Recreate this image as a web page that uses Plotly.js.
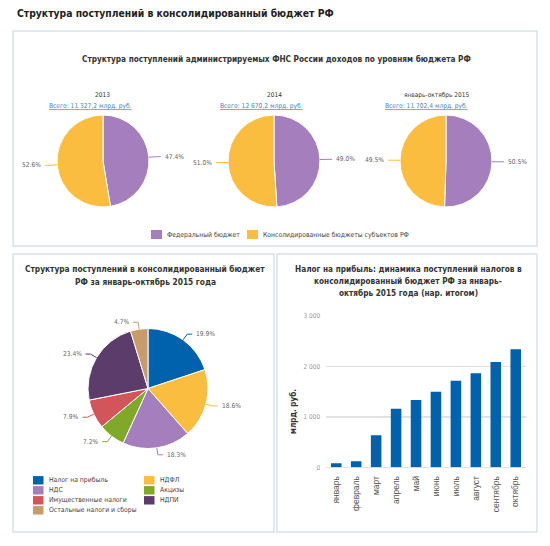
<!DOCTYPE html>
<html>
<head>
<meta charset="utf-8">
<script src="https://cdn.plot.ly/plotly-3.0.1.min.js"></script>
<style>html,body{margin:0;padding:0;background:#fff;}#chart{width:550px;height:546px;}</style>
</head>
<body>
<div id="chart"></div>
<script>
// ---------- DATA ----------
const topTitles = ['2013', '2014', 'январь-октябрь 2015'];
const topTotals = ['Всего: 11 327,2 млрд. руб.', 'Всего: 12 670,2 млрд. руб.', 'Всего: 11 702,4 млрд. руб.'];
const levelNames = ['Федеральный бюджет', 'Консолидированные бюджеты субъектов РФ'];
const federalShare = [47.4, 49.0, 50.5];
const regionalShare = [52.6, 51.0, 49.5];

const taxNames = ['Налог на прибыль', 'НДФЛ', 'НДС', 'Акцизы', 'Имущественные налоги', 'НДПИ', 'Остальные налоги и сборы'];
const taxShare = [19.9, 18.6, 18.3, 7.2, 7.9, 23.4, 4.7];

const months = ['январь', 'февраль', 'март', 'апрель', 'май', 'июнь', 'июль', 'август', 'сентябрь', 'октябрь'];
const profitTax = [80, 120, 635, 1160, 1335, 1500, 1715, 1865, 2090, 2340];

// ---------- STYLE ----------
const W = 550, H = 546;
const FONT = '"Liberation Sans Narrow", "DejaVu Sans Condensed", "Liberation Sans", sans-serif';
const levelColors = ['#a57fbd', '#fbbd40'];
const taxColors = ['#0062ad', '#fbbd40', '#a57fbd', '#80a92a', '#d3545a', '#5b3c6b', '#c89b6b'];
const BAR = '#0062ad';
const px = x => x / W;
const py = y => 1 - y / H;

const traces = [];
const shapes = [];
const annotations = [];

function ann(x, y, text, opts) {
  annotations.push(Object.assign({
    xref: 'paper', yref: 'paper', x: px(x), y: py(y), text: text, showarrow: false,
    xanchor: 'center', yanchor: 'middle', borderpad: 0, font: {family: FONT, size: 9, color: '#333'}
  }, opts || {}));
}
function rect(x0, y0, x1, y1, style) {
  shapes.push(Object.assign({type: 'rect', xref: 'paper', yref: 'paper',
    x0: px(x0), x1: px(x1), y0: py(y1), y1: py(y0)}, style));
}

function addPie(values, labels, colors, cx, cy, r) {
  traces.push({
    type: 'pie', values: values, labels: labels, sort: false, direction: 'clockwise', rotation: 0,
    marker: {colors: colors, line: {color: '#ffffff', width: 1}},
    textinfo: 'none', showlegend: false, hoverinfo: 'label+percent',
    domain: {x: [px(cx - r), px(cx + r)], y: [py(cy + r), py(cy - r)]}
  });
  const total = values.reduce((a, b) => a + b, 0);
  let cum = 0;
  values.forEach((v, i) => {
    const a = (cum + v / 2) / total * 2 * Math.PI;
    cum += v;
    const s = Math.sin(a), c = Math.cos(a);
    const sx = cx + r * s, sy = cy - r * c;
    const ex = cx + (r + 7) * s, ey = cy - (r + 7) * c;
    const right = s >= 0;
    const hx = ex + (right ? 5 : -5);
    shapes.push({type: 'path', xref: 'paper', yref: 'paper',
      path: `M${px(sx)},${py(sy)} L${px(ex)},${py(ey)} L${px(hx)},${py(ey)}`,
      line: {color: colors[i], width: 1}});
    ann(hx + (right ? 3 : -3), ey, v.toFixed(1) + '%', {
      xanchor: right ? 'left' : 'right', font: {family: FONT, size: 6.6, color: '#666'}
    });
  });
}

// ---------- PANELS ----------
const border = {line: {color: '#d6e2e7', width: 1.5}, fillcolor: 'rgba(0,0,0,0)', layer: 'below'};
rect(13, 31, 537, 246, border);
rect(13, 254, 274, 532, border);
rect(277, 254, 537, 532, border);

// ---------- HEADER ----------
ann(16, 13, '<b>Структура поступлений в консолидированный бюджет РФ</b>',
  {xanchor: 'left', font: {family: FONT, size: 10.3, color: '#222'}});
ann(276, 59, '<b>Структура поступлений администрируемых ФНС России доходов по уровням бюджета РФ</b>',
  {font: {family: FONT, size: 8.2, color: '#333'}});

// ---------- TOP PIES ----------
const topCenters = [103, 274, 446];
const topTitleX = [102, 274, 436];
const topTotalX = [90, 261, 426];
topCenters.forEach((cx, k) => {
  addPie([federalShare[k], regionalShare[k]], levelNames, levelColors, cx, 161, 46);
  ann(topTitleX[k], 95, topTitles[k], {font: {family: FONT, size: 6.5, color: '#333'}});
  ann(topTotalX[k], 106, '<u>' + topTotals[k] + '</u>', {font: {family: FONT, size: 6.6, color: '#3d85c6'}});
});
// top legend
const topLegX = [151, 247];
levelNames.forEach((n, i) => {
  rect(topLegX[i], 230, topLegX[i] + 11, 239, {line: {width: 0}, fillcolor: levelColors[i]});
  ann(topLegX[i] + 15, 234.8, n, {xanchor: 'left', font: {family: FONT, size: 6.8, color: '#444'}});
});

// ---------- BOTTOM-LEFT PIE ----------
ann(145, 269, '<b>Структура поступлений в консолидированный бюджет</b>', {font: {family: FONT, size: 8.3, color: '#333'}});
ann(145, 282, '<b>РФ за январь-октябрь 2015 года</b>', {font: {family: FONT, size: 8.3, color: '#333'}});
addPie(taxShare, taxNames, taxColors, 148, 388.5, 60);
taxNames.forEach((n, i) => {
  const col = i % 2, row = Math.floor(i / 2);
  const x = col === 0 ? 33 : 144;
  const y = 480.3 + row * 10;
  rect(x, y - 4.2, x + 10.5, y + 4.2, {line: {width: 0}, fillcolor: taxColors[i]});
  ann(x + 14.5, y, n, {xanchor: 'left', font: {family: FONT, size: 6.8, color: '#444'}});
});

// ---------- BOTTOM-RIGHT BAR ----------
ann(408, 269, '<b>Налог на прибыль: динамика поступлений налогов в</b>', {font: {family: FONT, size: 8.2, color: '#333'}});
ann(408, 281, '<b>консолидированный бюджет РФ за январь-</b>', {font: {family: FONT, size: 8.2, color: '#333'}});
ann(408, 293, '<b>октябрь 2015 года (нар. итогом)</b>', {font: {family: FONT, size: 8.2, color: '#333'}});
ann(293, 412, '<b>млрд. руб.</b>', {textangle: -90, font: {family: FONT, size: 8, color: '#333'}});

traces.push({
  type: 'bar', x: months, y: profitTax, marker: {color: BAR}, xaxis: 'x', yaxis: 'y',
  showlegend: false, hoverinfo: 'x+y'
});

const layout = {
  width: W, height: H, margin: {l: 0, r: 0, t: 0, b: 0},
  paper_bgcolor: '#fff', plot_bgcolor: 'rgba(0,0,0,0)',
  font: {family: FONT, color: '#333'},
  separators: ', ',
  showlegend: false,
  bargap: 0.47,
  xaxis: {
    domain: [px(326.3), px(525.7)], anchor: 'y', tickangle: -90, showgrid: false, showline: false,
    ticks: '', ticklabelstandoff: 6,
    tickfont: {family: '"Liberation Sans", sans-serif', size: 8.5, color: '#555'}, fixedrange: true
  },
  yaxis: {
    domain: [py(467.3), py(316)], anchor: 'x', range: [0, 3000], tickvals: [0, 1000, 2000, 3000],
    tickformat: ',d', gridcolor: '#e2e2e2', gridwidth: 1.5, zeroline: true, zerolinecolor: '#e2e2e2', zerolinewidth: 1.5,
    showline: false, ticks: '', ticklabelstandoff: 5,
    tickfont: {family: FONT, size: 6.5, color: '#999'}, fixedrange: true
  },
  shapes: shapes,
  annotations: annotations
};

Plotly.newPlot('chart', traces, layout, {displayModeBar: false, staticPlot: true});
</script>
</body>
</html>
